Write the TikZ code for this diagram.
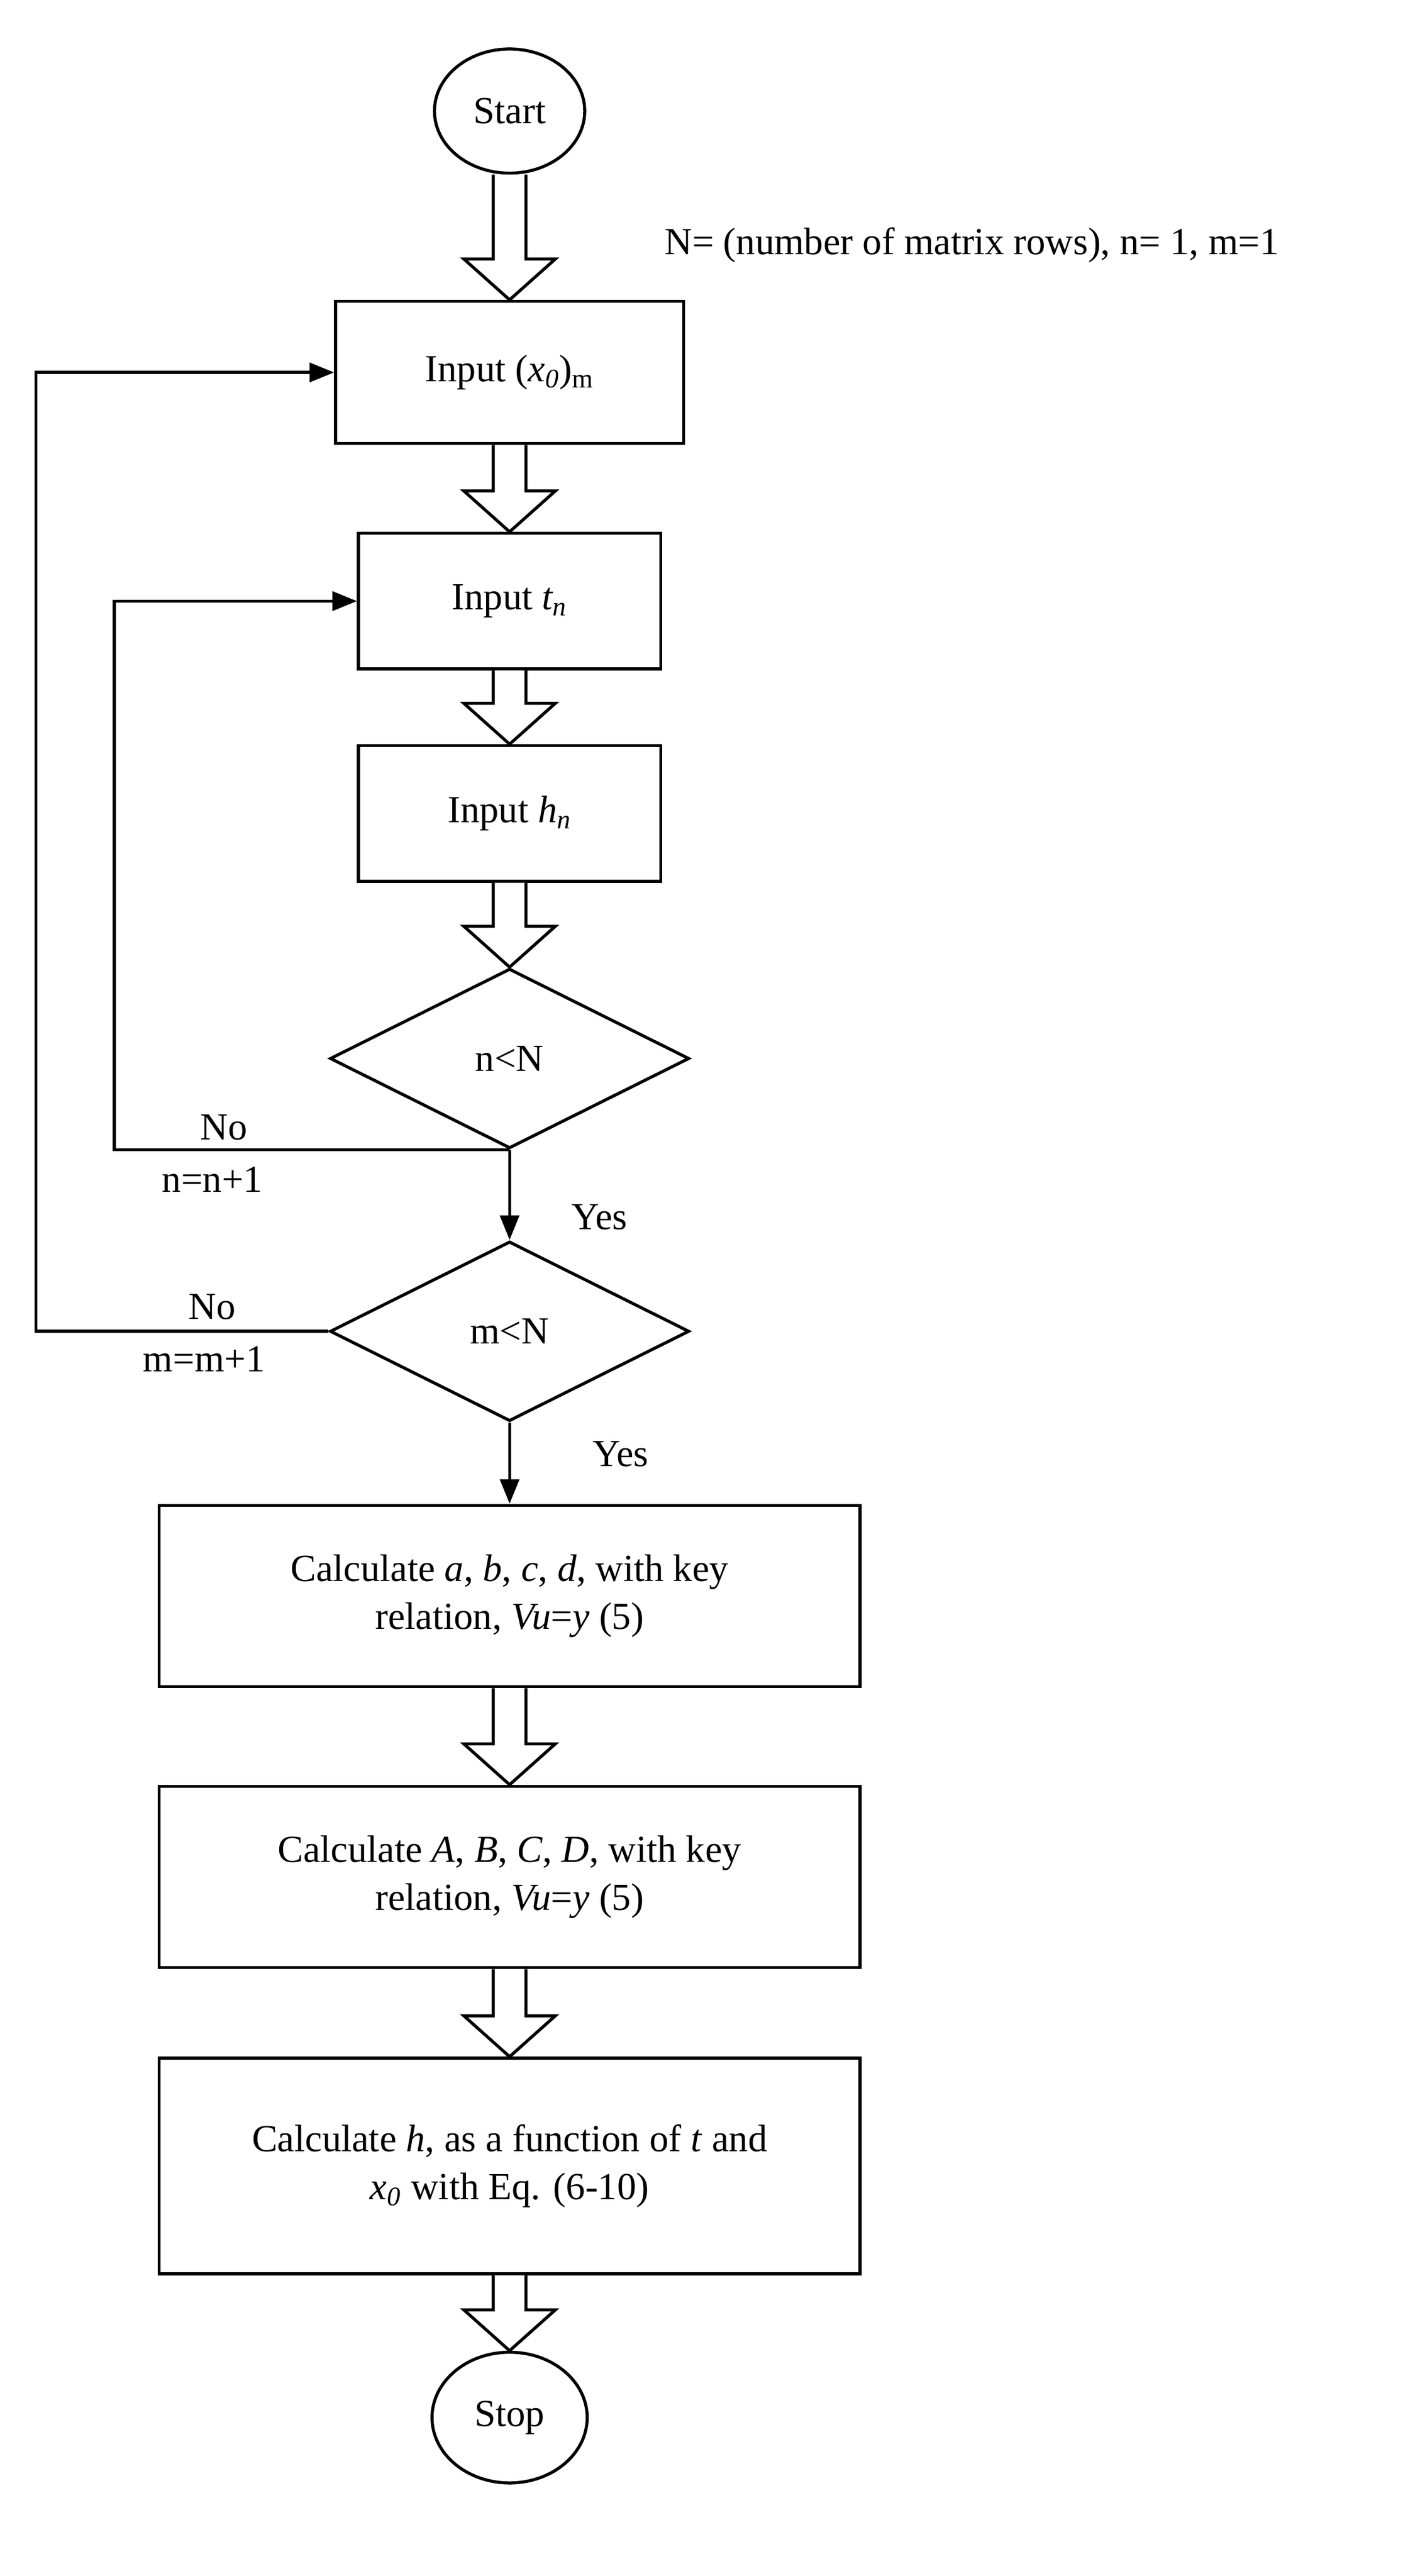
\documentclass[tikz,border=0pt]{standalone}
\usepackage{fontspec}
\setmainfont{Liberation Serif}
\usetikzlibrary{shapes.geometric,arrows.meta}
\begin{document}
\begin{tikzpicture}[x=0.03cm,y=-0.03cm,
  every node/.style={font=\fontsize{20}{25}\selectfont},
  box/.style={draw,line width=1.6pt,inner sep=2pt,align=center},
  oval/.style={draw,ellipse,line width=1.6pt,inner sep=0pt},
  dia/.style={draw,diamond,line width=1.6pt,inner sep=0pt,minimum width=6.6cm,minimum height=3.3cm},
  hollow/.style={draw,fill=white,line width=1.6pt,line join=miter},
  con/.style={line width=1.6pt,-{Triangle[length=0.45cm,width=0.35cm]}},
  lbl/.style={inner sep=0pt}]
\useasboundingbox (0,0) rectangle (862,1577);
\newcommand\hol[2]{\draw[hollow] ([xshift=-.3cm]#1.south) -- ([xshift=-.3cm,yshift=.75cm]#1.south |- #2.north) -- ([xshift=-.84cm,yshift=.75cm]#1.south |- #2.north) -- (#1.south |- #2.north) -- ([xshift=.84cm,yshift=.75cm]#1.south |- #2.north) -- ([xshift=.3cm,yshift=.75cm]#1.south |- #2.north) -- ([xshift=.3cm]#1.south);}
\node[oval,minimum width=2.76cm,minimum height=2.28cm] (start) at (312,68) {Start};
\node[box,minimum width=6.39cm,minimum height=2.61cm] (x0) at (312,228) {Input (\textit{x\textsubscript{0}})\textsubscript{m}};
\node[box,minimum width=5.55cm,minimum height=2.49cm] (tn) at (312,368) {Input \textit{t\textsubscript{n}}};
\node[box,minimum width=5.55cm,minimum height=2.49cm] (hn) at (312,498) {Input \textit{h\textsubscript{n}}};
\node[dia] (d1) at (312,648) {n<N};
\node[dia] (d2) at (312,815) {m<N};
\node[box,minimum width=12.87cm,minimum height=3.33cm] (c1) at (312,977) {Calculate \textit{a}, \textit{b}, \textit{c}, \textit{d}, with key\\relation, \textit{Vu}=\textit{y} (5)};
\node[box,minimum width=12.87cm,minimum height=3.33cm] (c2) at (312,1149) {Calculate \textit{A}, \textit{B}, \textit{C}, \textit{D}, with key\\relation, \textit{Vu}=\textit{y} (5)};
\node[box,minimum width=12.87cm,minimum height=3.96cm] (c3) at (312,1326) {Calculate \textit{h}, as a function of \textit{t} and\\\textit{x\textsubscript{0}} with Eq. (6-10)};
\node[oval,minimum width=2.85cm,minimum height=2.4cm] (stop) at (312,1480) {Stop};
\node[lbl] (ntext) at (595,150) {N= (number of matrix rows), n= 1, m=1};
\hol{start}{x0}
\hol{x0}{tn}
\hol{tn}{hn}
\hol{hn}{d1}
\hol{c1}{c2}
\hol{c2}{c3}
\hol{c3}{stop}
\draw[con] (d1.south) -- (d2.north);
\draw[con] (d2.south) -- (c1.north);
\coordinate (l1) at (70,703);
\coordinate (l2) at (22,815);
\draw[con] (d1.south) -- (d1.south -| l1) |- (tn.west);
\draw[con] (d2.west) -- (d2.west -| l2) |- (x0.west);
\node[lbl] (no1) at (137,690) {No};
\node[lbl] (nn) at (130,722) {n=n+1};
\node[lbl] (yes1) at (367,745) {Yes};
\node[lbl] (no2) at (130,800) {No};
\node[lbl] (mm) at (125,832) {m=m+1};
\node[lbl] (yes2) at (380,890) {Yes};
\end{tikzpicture}
\end{document}
